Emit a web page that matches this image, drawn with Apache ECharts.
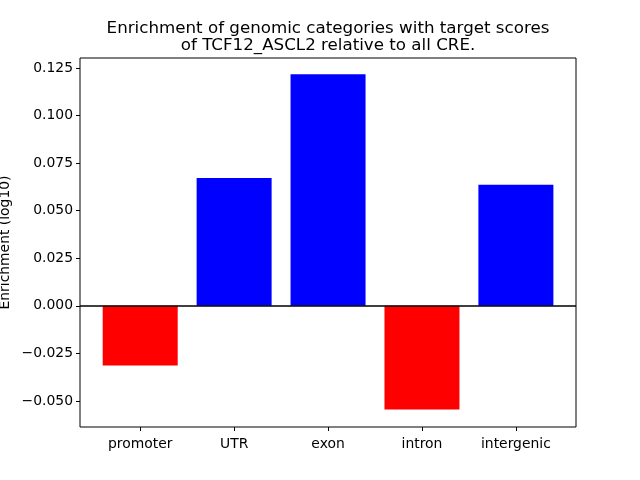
<!DOCTYPE html>
<html><head><meta charset="utf-8">
<script src="https://cdn.jsdelivr.net/npm/echarts@6/dist/echarts.min.js"></script>
<style>html,body{margin:0;padding:0;background:#fff}#c{width:640px;height:480px}</style>
</head><body><div id="c"></div>
<script>
const categories = ['promoter', 'UTR', 'exon', 'intron', 'intergenic'];
const values = [-0.0314, 0.0672, 0.1218, -0.0545, 0.0636];
const yTicks = [-0.05, -0.025, 0, 0.025, 0.05, 0.075, 0.1, 0.125];
const posColor = '#0000ff', negColor = '#ff0000';
const FONT = 'DejaVu Sans';

const chart = echarts.init(document.getElementById('c'), null, {renderer: 'canvas'});
const fmtY = v => (v < 0 ? '\u2212' : '') + Math.abs(v).toFixed(3);
chart.setOption({
  animation: false,
  backgroundColor: '#fff',
  title: {
    text: 'Enrichment of genomic categories with target scores\nof TCF12_ASCL2 relative to all CRE.',
    left: 323, top: 15, textAlign: 'center',
    textStyle: {fontFamily: FONT, fontSize: 16.7, fontWeight: 'normal', color: '#000', lineHeight: 17}
  },
  grid: {left: 80, right: 64, top: 58, bottom: 53, containLabel: false, outerBoundsMode: 'none',
         show: true, borderColor: '#000', borderWidth: 1, backgroundColor: 'transparent'},
  xAxis: {
    type: 'value', min: -0.641, max: 4.64,
    splitLine: {show: false},
    axisLine: {show: false, onZero: false},
    axisTick: {show: true, length: 4, lineStyle: {color: '#000'}, customValues: categories.map((c, i) => i)},
    axisLabel: {
      customValues: categories.map((c, i) => i),
      formatter: v => categories[Math.round(v)] || '',
      fontFamily: FONT, fontSize: 13.9, color: '#000', margin: 10
    }
  },
  yAxis: {
    type: 'value', min: -0.0637, max: 0.1303,
    name: 'Enrichment (log10)', nameLocation: 'middle', nameGap: 68, nameMoveOverlap: false,
    nameTextStyle: {fontFamily: FONT, fontSize: 13.9, color: '#000'},
    splitLine: {show: false},
    axisLine: {show: false, onZero: false},
    axisTick: {show: true, length: 4, lineStyle: {color: '#000'}, customValues: yTicks},
    axisLabel: {customValues: yTicks, formatter: fmtY, fontFamily: FONT, fontSize: 13.9, color: '#000', margin: 7}
  },
  series: [{
    type: 'bar',
    barWidth: 75,
    data: values.map((v, i) => ({value: [i, v], itemStyle: {color: v >= 0 ? posColor : negColor}})),
    markLine: {
      silent: true, symbol: 'none', label: {show: false},
      lineStyle: {color: '#000', width: 1.5, type: 'solid'},
      data: [{yAxis: 0}]
    }
  }]
});
</script></body></html>
